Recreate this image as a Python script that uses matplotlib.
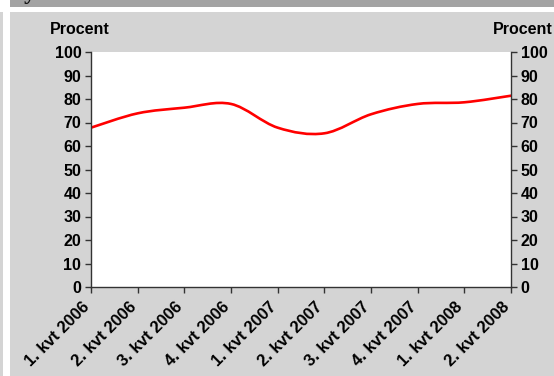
import numpy as np
import matplotlib
matplotlib.use('Agg')
import matplotlib.pyplot as plt
from matplotlib.path import Path
from matplotlib.patches import PathPatch, Rectangle

plt.rcParams['font.family'] = ['Liberation Sans', 'DejaVu Sans']

quarters = ['1. kvt 2006', '2. kvt 2006', '3. kvt 2006', '4. kvt 2006',
            '1. kvt 2007', '2. kvt 2007', '3. kvt 2007', '4. kvt 2007',
            '1. kvt 2008', '2. kvt 2008']
procent = [67.8, 73.9, 76.3, 77.9, 67.8, 65.4, 73.5, 77.9, 78.6, 81.4]
yticks = list(range(0, 101, 10))

panel = '#d4d4d4'
bar = '#a3a3a3'

fig = plt.figure(figsize=(5.54, 3.76), dpi=100)
fig.patch.set_facecolor('white')

# background blocks: title bar, left strip, grey panel
fig.patches.append(Rectangle((10/554, 1 - 7/376), 1, 7/376, transform=fig.transFigure,
                             facecolor=bar, edgecolor='none', zorder=0))
fig.patches.append(Rectangle((0, 0), 3/554, 1 - 12/376, transform=fig.transFigure,
                             facecolor=panel, edgecolor='none', zorder=0))
fig.patches.append(Rectangle((10/554, 0), 1, 1 - 12/376, transform=fig.transFigure,
                             facecolor=panel, edgecolor='none', zorder=0))
fig.text(12/554, 1 + 1.5/376, 'Sydafrika', fontsize=17, fontweight='bold',
         family='Liberation Serif', va='baseline', ha='left', color='#111111',
         zorder=1)

ax = fig.add_axes([91/554, 1 - 287/376, 420/554, 235/376])
ax.set_zorder(2)
ax.set_facecolor('white')
x = np.arange(len(procent))
ax.set_xlim(0, len(procent) - 1)
ax.set_ylim(0, 100)

# smoothed line (cubic bezier through the points)
y = np.array(procent, dtype=float)
verts = [(x[0], y[0])]
codes = [Path.MOVETO]
for i in range(len(x) - 1):
    p0 = (x[i-1], y[i-1]) if i > 0 else (x[i], y[i])
    p3 = (x[i+2], y[i+2]) if i + 2 < len(x) else (x[i+1], y[i+1])
    c1 = (x[i] + (x[i+1] - p0[0]) / 6, y[i] + (y[i+1] - p0[1]) / 6)
    c2 = (x[i+1] - (p3[0] - x[i]) / 6, y[i+1] - (p3[1] - y[i]) / 6)
    verts += [c1, c2, (x[i+1], y[i+1])]
    codes += [Path.CURVE4] * 3
ax.add_patch(PathPatch(Path(verts, codes), facecolor='none', edgecolor='#ff0000',
                       lw=1.9, capstyle='round', joinstyle='round'))

ax.spines['top'].set_visible(False)
for s in ['left', 'right', 'bottom']:
    ax.spines[s].set_color('#333333')
    ax.spines[s].set_linewidth(1.0)

ax.set_yticks(yticks)
ax.tick_params(axis='y', which='both', left=True, right=True, labelleft=True,
               labelright=True, direction='out', length=4, width=1,
               color='#333333', labelsize=11.5, pad=3)
for t in ax.yaxis.get_major_ticks():
    t.label1.set_fontweight('bold')
    t.label2.set_fontweight('bold')

ax.set_xticks(x)
ax.set_xticklabels([])
ax.tick_params(axis='x', direction='out', length=4, width=1, color='#333333')
# rotated quarter labels, anchored a little below-left of each tick
for xi, q in zip(x, quarters):
    ax.annotate(q, xy=(xi, 0), xycoords='data', xytext=(-6.5, -9),
                textcoords='offset points', rotation=45, ha='right', va='top',
                rotation_mode='anchor', fontsize=12, fontweight='bold',
                annotation_clip=False)

fig.text(80/554, 1 - 30/376, 'Procent', fontsize=11.5, fontweight='bold',
         ha='center', va='center')
fig.text(523/554, 1 - 30/376, 'Procent', fontsize=11.5, fontweight='bold',
         ha='center', va='center')

fig.savefig('out.png', dpi=100, facecolor=fig.get_facecolor())
